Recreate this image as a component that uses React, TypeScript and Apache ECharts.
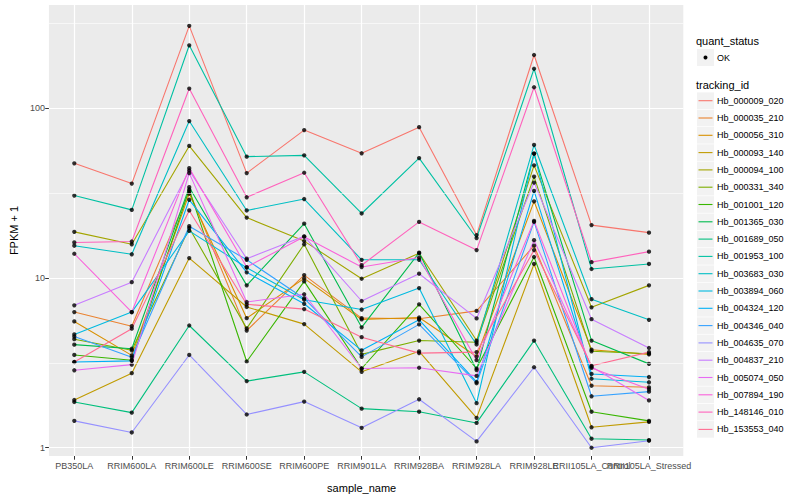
import React, { useEffect, useRef } from 'react';
import * as echarts from 'echarts';

const categories = [
  'PB350LA', 'RRIM600LA', 'RRIM600LE', 'RRIM600SE', 'RRIM600PE', 'RRIM901LA',
  'RRIM928BA', 'RRIM928LA', 'RRIM928LE', 'RRII105LA_Control', 'RRII105LA_Stressed',
];

const trackingIds = [
  'Hb_000009_020', 'Hb_000035_210', 'Hb_000056_310', 'Hb_000093_140', 'Hb_000094_100',
  'Hb_000331_340', 'Hb_001001_120', 'Hb_001365_030', 'Hb_001689_050', 'Hb_001953_100',
  'Hb_003683_030', 'Hb_003894_060', 'Hb_004324_120', 'Hb_004346_040', 'Hb_004635_070',
  'Hb_004837_210', 'Hb_005074_050', 'Hb_007894_190', 'Hb_148146_010', 'Hb_153553_040',
];

const seriesColors = [
  '#F8766D', '#EA8331', '#D89000', '#C09B00', '#A3A500', '#7CAE00', '#39B600', '#00BB4E',
  '#00BF7D', '#00C1A3', '#00BFC4', '#00BAE0', '#00B0F6', '#35A2FF', '#9590FF', '#C77CFF',
  '#E76BF3', '#FA62DB', '#FF62BC', '#FF6C91',
];

// FPKM + 1 per sample, in the order of `categories`
const hb000009_020 = [47.4, 36.0, 306, 41.5, 74.4, 54.3, 77.4, 17.9, 206, 20.5, 18.5];
const hb000035_210 = [6.3, 5.2, 32.4, 4.9, 10.4, 5.8, 5.75, 6.4, 15.5, 2.32, 2.27];
const hb000056_310 = [5.55, 3.5, 31.4, 5.8, 9.95, 5.7, 5.85, 3.45, 28.3, 3.78, 3.55];
const hb000093_140 = [1.91, 2.75, 13.1, 6.75, 5.35, 2.8, 3.7, 1.5, 12.1, 1.32, 1.42];
const hb000094_100 = [18.7, 15.8, 60.0, 22.7, 16.5, 9.9, 14.0, 4.28, 46.1, 6.72, 9.05];
const hb000331_340 = [4.36, 3.75, 19.7, 5.05, 15.8, 3.55, 4.28, 4.18, 39.6, 3.7, 3.58];
const hb001001_120 = [3.52, 3.28, 33.2, 3.22, 9.55, 2.93, 7.0, 2.93, 13.3, 1.63, 1.44];
const hb001365_030 = [4.05, 3.83, 34.3, 9.05, 20.9, 5.12, 14.1, 2.87, 54.1, 4.28, 3.12];
const hb001689_050 = [1.86, 1.61, 5.25, 2.47, 2.8, 1.7, 1.63, 1.4, 4.28, 1.13, 1.11];
const hb001953_100 = [30.6, 25.2, 235, 51.9, 52.8, 24.0, 50.9, 17.2, 171, 11.3, 12.1];
const hb003683_030 = [15.5, 13.8, 84.1, 25.0, 29.2, 12.8, 12.8, 4.06, 60.8, 7.5, 5.67];
const hb003894_060 = [4.65, 6.3, 18.95, 11.5, 7.45, 6.52, 8.72, 1.83, 54.1, 2.55, 2.43];
const hb004324_120 = [3.2, 3.25, 28.9, 10.8, 7.05, 3.75, 5.67, 2.44, 32.6, 2.72, 2.61];
const hb004346_040 = [4.52, 3.41, 20.2, 12.8, 7.58, 3.43, 5.33, 2.4, 21.4, 2.01, 2.14];
const hb004635_070 = [1.44, 1.23, 3.52, 1.57, 1.87, 1.31, 1.93, 1.09, 2.98, 1.0, 1.1];
const hb004837_210 = [6.9, 9.45, 43.0, 13.0, 17.6, 7.32, 10.6, 5.78, 36.5, 5.72, 3.87];
const hb005074_050 = [2.86, 3.09, 41.5, 7.22, 8.02, 2.93, 2.96, 2.65, 16.7, 3.0, 1.9];
const hb007894_190 = [13.9, 6.3, 44.4, 11.6, 17.5, 11.6, 13.2, 3.28, 21.7, 2.95, 2.21];
const hb148146_010 = [16.2, 16.4, 130.7, 29.9, 41.7, 11.9, 21.4, 14.6, 133, 12.4, 14.3];
const hb153553_040 = [3.2, 5.03, 25.0, 7.0, 6.56, 4.48, 3.61, 3.66, 14.6, 3.04, 3.66];

const seriesValues = [
  hb000009_020, hb000035_210, hb000056_310, hb000093_140, hb000094_100,
  hb000331_340, hb001001_120, hb001365_030, hb001689_050, hb001953_100,
  hb003683_030, hb003894_060, hb004324_120, hb004346_040, hb004635_070,
  hb004837_210, hb005074_050, hb007894_190, hb148146_010, hb153553_040,
];

const yMajorTicks = [1, 10, 100];
const yMinorBreaks = [3.1623, 31.623, 316.23];
const yRange = [0.894, 406];

const FONT = 'Liberation Sans';

export default function App() {
  const ref = useRef<HTMLDivElement>(null);

  useEffect(() => {
    document.body.style.margin = '0';
    const chart = echarts.init(ref.current as HTMLDivElement, null, { renderer: 'svg' });

    const panel = { left: 39.8, top: 5, width: 643.5, height: 451 };
    const band = 57.47;
    const dataGrid = { left: 74.3 - band / 2, top: 5, width: band * categories.length, height: 451 };

    const lineSeries = seriesValues.map((vals, i) => ({
      name: trackingIds[i],
      type: 'line',
      xAxisIndex: 1,
      yAxisIndex: 1,
      data: vals,
      showSymbol: false,
      symbol: 'none',
      silent: true,
      z: 2,
      lineStyle: { color: seriesColors[i], width: 1.1 },
      itemStyle: { color: seriesColors[i] },
    }));

    const points: number[][] = [];
    seriesValues.forEach((vals) => vals.forEach((v, j) => points.push([j, v])));

    const legendX = 697;
    const graphic: any[] = [
      { type: 'text', x: 696, y: 41, style: { text: 'quant_status', font: `11px ${FONT}`, fill: '#000', verticalAlign: 'middle', textVerticalAlign: 'middle' } },
      { type: 'rect', shape: { x: legendX, y: 49, width: 17, height: 17 }, style: { fill: '#F2F2F2' } },
      { type: 'circle', shape: { cx: legendX + 8.5, cy: 57.5, r: 2 }, style: { fill: '#000' } },
      { type: 'text', x: 717, y: 57.5, style: { text: 'OK', font: `9px ${FONT}`, fill: '#000', verticalAlign: 'middle', textVerticalAlign: 'middle' } },
      { type: 'text', x: 696, y: 84.5, style: { text: 'tracking_id', font: `11px ${FONT}`, fill: '#000', verticalAlign: 'middle', textVerticalAlign: 'middle' } },
    ];
    trackingIds.forEach((id, i) => {
      const cy = 100.7 + 17.3 * i;
      graphic.push({ type: 'rect', shape: { x: legendX, y: cy - 8.3, width: 17, height: 16.6 }, style: { fill: '#F2F2F2' } });
      graphic.push({ type: 'line', shape: { x1: legendX + 1.5, y1: cy, x2: legendX + 15.5, y2: cy }, style: { stroke: seriesColors[i], lineWidth: 1.1 } });
      graphic.push({ type: 'text', x: 717, y: cy, style: { text: id, font: `9px ${FONT}`, fill: '#000', verticalAlign: 'middle', textVerticalAlign: 'middle' } });
    });

    const option: any = {
      animation: false,
      backgroundColor: '#FFFFFF',
      textStyle: { fontFamily: FONT },
      grid: [
        { ...panel, show: true, backgroundColor: '#EBEBEB', borderWidth: 0, containLabel: false },
        { ...dataGrid, show: false, containLabel: false },
      ],
      xAxis: [
        { type: 'value', gridIndex: 0, min: 0, max: 1, show: false },
        {
          type: 'category',
          gridIndex: 1,
          data: categories,
          boundaryGap: true,
          axisLine: { show: false },
          axisTick: { show: true, alignWithLabel: true, length: 3.7, lineStyle: { color: '#333333', width: 1 } },
          axisLabel: { interval: 0, color: '#4D4D4D', fontSize: 9, margin: 5, fontFamily: FONT },
          splitLine: { show: true, interval: 0, alignWithLabel: true, lineStyle: { color: '#FFFFFF', width: 1.2 } },
          name: 'sample_name',
          nameLocation: 'middle',
          nameGap: 26,
          nameTextStyle: { color: '#000', fontSize: 11, fontFamily: FONT },
        },
      ],
      yAxis: [
        {
          type: 'log',
          logBase: 10,
          gridIndex: 0,
          min: yRange[0],
          max: yRange[1],
          axisLine: { show: false },
          axisTick: { show: true, length: 3.7, customValues: yMajorTicks, lineStyle: { color: '#333333', width: 1 } },
          axisLabel: {
            color: '#4D4D4D', fontSize: 9, margin: 4, fontFamily: FONT,
            customValues: yMajorTicks,
            formatter: (v: number) => (yMajorTicks.some((t) => Math.abs(t - v) / t < 1e-6) ? String(Math.round(v)) : ''),
          },
          splitLine: { show: true, lineStyle: { color: '#FFFFFF', width: 1.2 } },
          name: 'FPKM + 1',
          nameLocation: 'middle',
          nameGap: 22,
          nameTextStyle: { color: '#000', fontSize: 11, fontFamily: FONT },
        },
        {
          type: 'log',
          logBase: 10,
          gridIndex: 1,
          min: yRange[0],
          max: yRange[1],
          show: false,
          splitLine: { show: false },
        },
      ],
      series: [
        {
          type: 'line',
          xAxisIndex: 0,
          yAxisIndex: 0,
          data: [[0.5, 10]],
          symbol: 'none',
          silent: true,
          lineStyle: { opacity: 0 },
          z: 1,
          markLine: {
            silent: true,
            symbol: ['none', 'none'],
            label: { show: false },
            lineStyle: { color: '#FFFFFF', width: 0.6, type: 'solid' },
            emphasis: { disabled: true },
            data: yMinorBreaks.map((v) => ({ yAxis: v })),
          },
        },
        ...lineSeries,
        {
          type: 'scatter',
          xAxisIndex: 1,
          yAxisIndex: 1,
          data: points,
          symbol: 'circle',
          symbolSize: 4.3,
          silent: true,
          z: 3,
          itemStyle: { color: '#000000' },
        },
      ],
      graphic,
    };

    chart.setOption(option);
    return () => chart.dispose();
  }, []);

  return <div ref={ref} style={{ width: 800, height: 500 }} />;
}
